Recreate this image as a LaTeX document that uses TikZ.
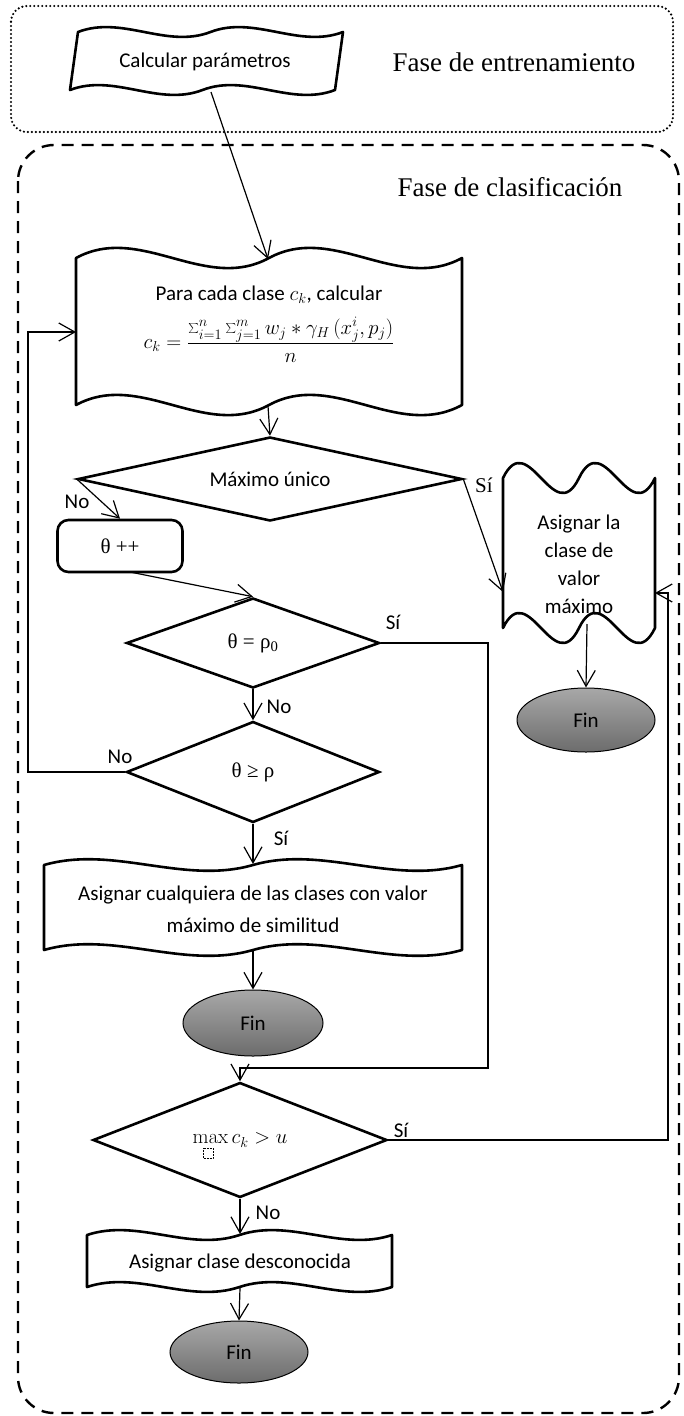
\documentclass[tikz,border=0pt]{standalone}
\usepackage[no-math]{fontspec}
\setmainfont{Carlito}
\newfontfamily\tnr{Liberation Serif}
\usetikzlibrary{shapes.geometric,arrows.meta}
\definecolor{fintop}{HTML}{A8A8A8}
\definecolor{finbot}{HTML}{6C6C6C}
\newcommand\wavebox[7]{%
\draw[#1] ({#2+#7},{#4})
 .. controls ({#2+#7+(#3-#2)/6},{#4-#6}) and ({#2+#7+(#3-#2)/3},{#4+#6}) .. ({#2+#7+(#3-#2)/2},{#4})
 .. controls ({#2+#7+2*(#3-#2)/3},{#4-#6}) and ({#2+#7+5*(#3-#2)/6},{#4+#6}) .. ({#3+#7},{#4})
 -- ({#3},{#5})
 .. controls ({#2+5*(#3-#2)/6},{#5+#6}) and ({#2+2*(#3-#2)/3},{#5-#6}) .. ({#2+(#3-#2)/2},{#5})
 .. controls ({#2+(#3-#2)/3},{#5+#6}) and ({#2+(#3-#2)/6},{#5-#6}) .. ({#2},{#5})
 -- cycle;}
\begin{document}
\begin{tikzpicture}[x=1pt,y=-1pt,
  shp/.style={line width=2.6pt, line join=round},
  con/.style={line width=1.2pt, -{Straight Barb[length=16pt,width=18pt]}},
  txt/.style={font=\fontsize{21}{28}\selectfont, align=center, inner sep=0pt},
  stxt/.style={font=\tnr\fontsize{21}{25}\selectfont, inner sep=0pt},
  ttl/.style={font=\tnr\fontsize{27}{32}\selectfont, inner sep=0pt},
  dia/.style={diamond, draw, line width=2.6pt, inner sep=0pt, shape aspect=4, font=\fontsize{21}{25}\selectfont},
  fin/.style={ellipse, draw, line width=1pt, top color=fintop, bottom color=finbot, inner sep=0pt, font=\fontsize{21}{25}\selectfont},
]
\useasboundingbox (0,0) rectangle (683,1416);
% phase frames
\draw[line width=2.4pt, dash pattern=on 0pt off 4pt, line cap=round, rounded corners=16pt] (11,6) rectangle (673,132);
\draw[line width=2.4pt, dash pattern=on 12pt off 8pt, rounded corners=36pt] (18,145) rectangle (679,1413);
\node[ttl] (ttrain) at (514,62) {Fase de entrenamiento};
\node[ttl] (tclass) at (510,187) {Fase de clasificación};
% shapes with wavy edges
\wavebox{shp}{70}{335}{32}{90}{17}{8}
\node[txt] (calc) at (205,62) {Calcular parámetros};
\wavebox{shp}{76}{462}{258}{405}{35}{0}
\node[txt] (para) at (269,295) {Para cada clase $c_k$, calcular};
\node[txt, font=\fontsize{22}{28}\selectfont] (form) at (269,340) {$\displaystyle c_k=\frac{\sum_{i=1}^{n}\sum_{j=1}^{m} w_j * \gamma_H\,(x_j^i,p_j)}{n}$};
\node[dia, minimum width=384pt, minimum height=84pt] (max) at (270,479) {Máximo único};
\node[draw, shp, rounded corners=11pt, minimum width=125pt, minimum height=52pt, stxt] (inc) at (120,546) {θ ++};
\node[dia, minimum width=253pt, minimum height=90pt, font=\tnr\fontsize{21}{25}\selectfont] (eq) at (253,643) {θ = ρ\textsubscript{0}};
\node[dia, minimum width=253pt, minimum height=101pt, font=\tnr\fontsize{21}{25}\selectfont] (ge) at (253,772) {θ ≥ ρ};
\wavebox{shp}{44}{462}{865}{950}{20}{0}
\node[txt, font=\fontsize{21}{32}\selectfont] (any) at (253,909) {Asignar cualquiera de las clases con valor\\máximo de similitud};
\node[fin, minimum width=140pt, minimum height=66pt] (fin1) at (253,1023) {Fin};
\node[dia, minimum width=294pt, minimum height=115pt, font=\fontsize{22}{26}\selectfont] (maxc) at (240,1140) {$\max c_k > u$};
\draw[line width=0.5pt, densely dotted] (203,1148) rectangle (213,1158);
\wavebox{shp}{87}{392}{1235}{1287}{17}{0}
\node[txt] (unk) at (240,1263) {Asignar clase desconocida};
\node[fin, minimum width=138pt, minimum height=62pt] (fin3) at (239,1352) {Fin};
\wavebox{shp}{503}{655}{478}{628}{52}{0}
\node[txt] (asig) at (579,564) {Asignar la\\clase de\\valor\\máximo};
\node[fin, minimum width=138pt, minimum height=64pt] (fin2) at (586,720) {Fin};
% labels
\node[txt] (l1) at (77,502) {No};
\node[stxt] (l2) at (484,485) {Sí};
\node[txt] (l3) at (393,622) {Sí};
\node[txt] (l4) at (279,707) {No};
\node[txt] (l5) at (120,757) {No};
\node[txt] (l6) at (281,838) {Sí};
\node[txt] (l7) at (401,1130) {Sí};
\node[txt] (l8) at (268,1213) {No};
% connector end points on the wavy shapes
\coordinate (calcB) at (211,92);
\coordinate (bigT) at (268,259);
\coordinate (bigB) at (268,406);
\coordinate (bigL) at (76,332);
\coordinate (loopc) at (28,332);
\coordinate (asigL) at (503,592);
\coordinate (asigR) at (655,593);
\coordinate (rc) at (668,593);
\coordinate (asigB) at (587,624);
\coordinate (incS) at (130,572);
\coordinate (r1) at (488,1068);
\coordinate (anyT) at (253,864);
\coordinate (anyB) at (253,951);
\coordinate (unkT) at (240,1234);
\coordinate (unkB) at (240,1288);
% connectors
\draw[con] (calcB) -- (bigT);
\draw[con] (bigB) -- (max.north);
\draw[con] (max.west) -- (inc.north);
\draw[con] (max.east) -- (asigL);
\draw[con] (incS) -- (eq.north);
\draw[con] (eq.south) -- (ge.north);
\draw[con] (ge.west) -| (loopc) -- (bigL);
\draw[con] (ge.south) -- (anyT);
\draw[con] (anyB) -- (fin1.north);
\draw[con] (eq.east) -| (r1) -- (r1 -| maxc.north) -- (maxc.north);
\draw[con] (maxc.east) -| (rc) -- (asigR);
\draw[con] (maxc.south) -- (unkT);
\draw[con] (unkB) -- (fin3.north);
\draw[con] (asigB) -- (fin2.north);
\end{tikzpicture}
\end{document}
